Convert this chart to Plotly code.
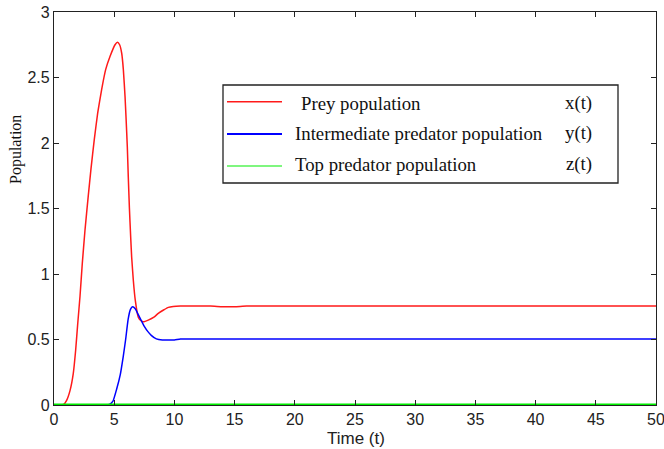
import plotly.graph_objects as go

# Prey population x(t)
t_prey = [0, 0.5, 0.8, 1.05, 1.33, 1.6, 1.8, 1.97, 2.16, 2.35, 2.57, 2.85, 3.07, 3.35,
          3.63, 3.96, 4.29, 4.65, 5.07, 5.27, 5.45, 5.62, 5.76, 5.9, 5.98, 6.09, 6.17,
          6.26, 6.37, 6.45, 6.59, 6.75, 7.0, 7.2, 7.42, 7.83, 8.3, 8.66, 9.1, 9.5, 9.9,
          10.5, 13.0, 14.0, 15.0, 16.0, 20, 30, 40, 50]
x_prey = [0, 0, 0.005, 0.036, 0.11, 0.24, 0.42, 0.62, 0.83, 1.08, 1.33, 1.6, 1.8, 2.03,
          2.23, 2.41, 2.56, 2.66, 2.75, 2.77, 2.75, 2.687, 2.56, 2.355, 2.2, 1.97, 1.74,
          1.51, 1.28, 1.13, 0.95, 0.8, 0.67, 0.645, 0.635, 0.648, 0.67, 0.70, 0.725, 0.745,
          0.752, 0.755, 0.755, 0.75, 0.75, 0.755, 0.755, 0.755, 0.755, 0.755]

# Intermediate predator population y(t)
t_mid = [0, 4.3, 4.6, 4.9, 5.2, 5.5, 5.75, 5.95, 6.15, 6.35, 6.53, 6.75, 7.0, 7.25, 7.5,
         7.8, 8.1, 8.5, 9.0, 10.0, 10.5, 15, 20, 30, 40, 50]
y_mid = [0, 0, 0.005, 0.03, 0.12, 0.23, 0.37, 0.5, 0.65, 0.73, 0.75, 0.735, 0.69, 0.645,
         0.6, 0.56, 0.53, 0.505, 0.497, 0.497, 0.503, 0.503, 0.503, 0.503, 0.503, 0.503]

# Top predator population z(t)
t_top = [0, 10, 20, 30, 40, 50]
z_top = [0, 0, 0, 0, 0, 0]

legend_left = ["Prey population", "Intermediate predator population", "Top predator population"]
legend_right = ["x(t)", "y(t)", "z(t)"]
colors = ["#ff1a1a", "#0000ff", "#00ee00"]
widths = [1.5, 1.8, 1.2]

x_ticks = list(range(0, 55, 5))
y_ticks = [0, 0.5, 1, 1.5, 2, 2.5, 3]
y_tick_text = ["0", "0.5", "1", "1.5", "2", "2.5", "3"]

fig = go.Figure()
fig.add_trace(go.Scatter(x=t_prey, y=x_prey, mode="lines",
                         line=dict(color=colors[0], width=1.5, shape="spline", smoothing=0.4),
                         showlegend=False))
fig.add_trace(go.Scatter(x=t_mid, y=y_mid, mode="lines",
                         line=dict(color=colors[1], width=1.5, shape="spline", smoothing=0.4),
                         showlegend=False))
fig.add_trace(go.Scatter(x=t_top, y=z_top, mode="lines",
                         line=dict(color=colors[2], width=3), showlegend=False, cliponaxis=False))

axis_common = dict(showline=True, mirror="ticks", linecolor="#222", linewidth=1.3,
                   ticks="inside", ticklen=5, tickcolor="#222", showgrid=False,
                   zeroline=False, automargin=False, ticklabeloverflow="allow",
                   tickfont=dict(family="Liberation Sans, Arial", size=16, color="#222"))

fig.update_layout(
    width=664, height=449,
    margin=dict(l=54, r=8, t=12, b=44),
    paper_bgcolor="white", plot_bgcolor="white",
    xaxis=dict(range=[0, 50], tickvals=x_ticks, **axis_common),
    yaxis=dict(range=[0, 3], tickvals=y_ticks, ticktext=y_tick_text, **axis_common),
)

# Axis titles
fig.add_annotation(text="Time (t)", xref="paper", yref="paper",
                   x=(356 - 54) / 602, y=(405 - 438) / 393, showarrow=False,
                   xanchor="center", yanchor="middle",
                   font=dict(family="Liberation Sans, Arial", size=17, color="#222"))
fig.add_annotation(text="Population", xref="paper", yref="paper",
                   x=(16 - 54) / 602, y=(405 - 150) / 393, showarrow=False,
                   textangle=-90, xanchor="center", yanchor="middle",
                   font=dict(family="Liberation Serif, Times New Roman", size=16, color="#111"))

# Legend box
def px(xp):
    return (xp - 54) / 602

def py(yp):
    return (405 - yp) / 393

fig.add_shape(type="rect", xref="paper", yref="paper",
              x0=px(223), x1=px(618), y0=py(183), y1=py(85),
              line=dict(color="#222", width=1.3), fillcolor="white", layer="above")
row_line_y = [101.7, 134, 166]
row_text_y = [103, 133, 164]
for i in range(3):
    fig.add_shape(type="line", xref="paper", yref="paper",
                  x0=px(227), x1=px(282), y0=py(row_line_y[i]), y1=py(row_line_y[i]),
                  line=dict(color=colors[i], width=widths[i]), layer="above")
    left_txt = legend_left[i]
    fig.add_annotation(text=left_txt, xref="paper", yref="paper",
                       x=px(299 if i == 0 else 293), y=py(row_text_y[i]), showarrow=False,
                       xanchor="left", yanchor="middle",
                       font=dict(family="Liberation Serif, Times New Roman", size=18.8, color="#111"))
    fig.add_annotation(text=legend_right[i], xref="paper", yref="paper",
                       x=px(594), y=py(row_text_y[i]), showarrow=False,
                       xanchor="right", yanchor="middle",
                       font=dict(family="Liberation Serif, Times New Roman", size=18.8, color="#111"))

fig.write_html("out.html")
